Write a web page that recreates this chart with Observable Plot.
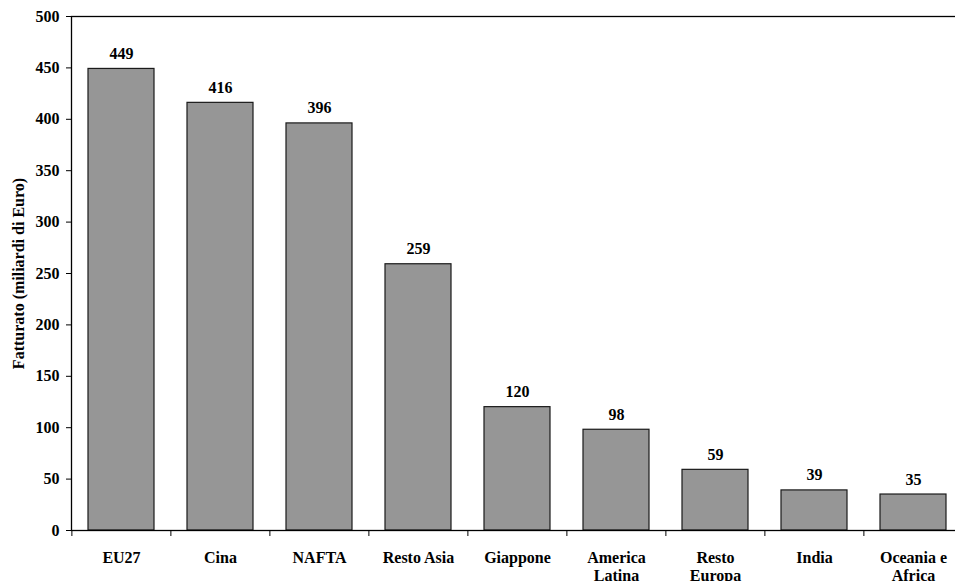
<!DOCTYPE html>
<html>
<head>
<meta charset="utf-8">
<script src="https://cdn.jsdelivr.net/npm/d3@7"></script>
<script src="https://cdn.jsdelivr.net/npm/@observablehq/plot@0.6"></script>
<style>
  html, body { margin: 0; padding: 0; background: white; overflow: hidden; }
  #chart { width: 955px; height: 581px; overflow: hidden; }
  #chart svg { max-width: none !important; font-family: "Liberation Serif", "Times New Roman", serif !important; font-weight: bold; }
  #chart svg text { font-family: "Liberation Serif", "Times New Roman", serif !important; }
</style>
</head>
<body>
<div id="chart"></div>
<script>
const categories = ["EU27", "Cina", "NAFTA", "Resto Asia", "Giappone", "America\nLatina", "Resto\nEuropa", "India", "Oceania e\nAfrica"];
const values = [449, 416, 396, 259, 120, 98, 59, 39, 35];
const yTicks = [0, 50, 100, 150, 200, 250, 300, 350, 400, 450, 500];
const yLabel = "Fatturato (miliardi di Euro)";

const data = categories.map((c, i) => ({ cat: c, value: values[i] }));

const W = 965, ML = 71, MR = 1;
const step = (W - ML - MR) / categories.length;

const chart = Plot.plot({
  width: W,
  height: 581,
  marginLeft: ML,
  marginRight: MR,
  marginTop: 16,
  marginBottom: 51,
  style: "font-family: 'Liberation Serif', serif; font-weight: bold; font-size: 16px; background: white; color: black; max-width: none;",
  x: { domain: categories, paddingInner: 0.33, paddingOuter: 0.165, axis: null },
  y: { domain: [0, 500], axis: null },
  marks: [
    Plot.barY(data, { x: "cat", y: "value", fill: "#969696", stroke: "#1a1a1a", strokeWidth: 1.2 }),
    Plot.frame({ stroke: "black", strokeWidth: 1.3 }),
    Plot.axisY({ ticks: yTicks, tickSize: 5, tickPadding: 7, fontSize: 16, fontWeight: "bold", label: null, stroke: "black" }),
    Plot.axisX({ tickSize: 6, text: null, dx: -step / 2, label: null, stroke: "black" }),
    Plot.text(categories, { x: d => d, y: d => 0, dy: 19, lineAnchor: "top", lineHeight: 1.15, fontSize: 16, fontWeight: "bold", fill: "black", clip: false }),
    Plot.text(data, { x: "cat", y: "value", text: d => String(d.value), lineAnchor: "bottom", dy: -10, fontSize: 16, fontWeight: "bold", fill: "black" }),
    Plot.text([yLabel], { frameAnchor: "left", text: d => d, rotate: -90, dx: -53, fontSize: 16, fontWeight: "bold", fill: "black", textAnchor: "middle" })
  ]
});
document.getElementById("chart").appendChild(chart);
</script>
</body>
</html>
